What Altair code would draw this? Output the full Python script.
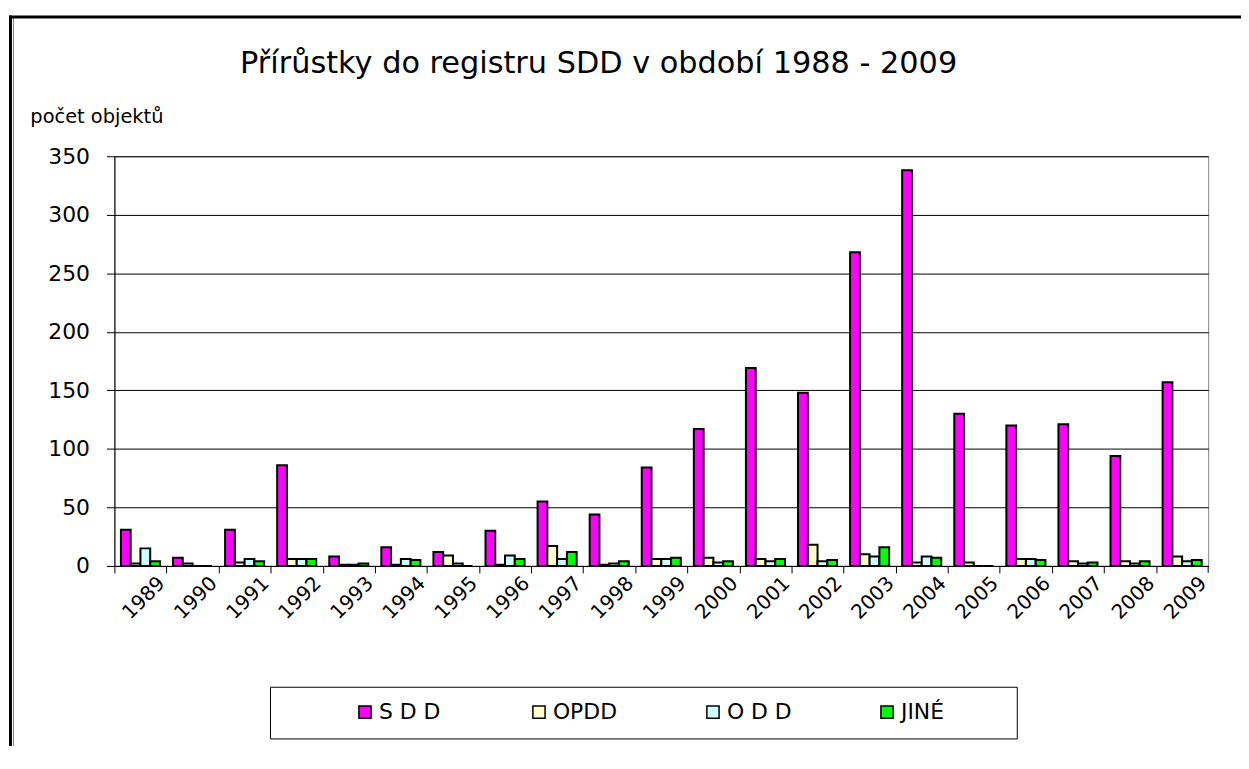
import altair as alt
import pandas as pd

title_text = "Přírůstky do registru SDD v období 1988 - 2009"
y_title = "počet objektů"
years = [str(y) for y in range(1989, 2010)]
series = ["S D D", "OPDD", "O D D", "JINÉ"]
colors = ["#FF00FF", "#FFFFCC", "#CCFFFF", "#00FF00"]

sdd = [31, 7, 31, 86, 8, 16, 12, 30, 55, 44, 84, 117, 169, 148, 268, 338, 130, 120, 121, 94, 157]
opdd = [2, 2, 3, 6, 1, 1, 9, 1, 17, 1, 6, 7, 6, 18, 10, 3, 3, 6, 4, 4, 8]
odd = [15, 0, 6, 6, 1, 6, 2, 9, 6, 2, 6, 3, 4, 4, 8, 8, 0, 6, 2, 2, 4]
jine = [4, 0, 4, 6, 2, 5, 0, 6, 12, 4, 7, 4, 6, 5, 16, 7, 0, 5, 3, 4, 5]
y_ticks = [0, 50, 100, 150, 200, 250, 300, 350]

rows = []
for i, yr in enumerate(years):
    for s, vals in zip(series, [sdd, opdd, odd, jine]):
        rows.append({"rok": yr, "typ": s, "pocet": vals[i]})
df = pd.DataFrame(rows)

W, H = 1100, 412
FONT = "DejaVu Sans"
step = W / len(years)
one = alt.Data(values=[{"a": 1}])

bars = alt.Chart(df).mark_bar(stroke="black", strokeWidth=2).encode(
    x=alt.X("rok:N", sort=years,
            scale=alt.Scale(paddingInner=0.25, paddingOuter=0.125),
            axis=alt.Axis(title=None, labelAngle=-45, labelAlign="right",
                          labelBaseline="middle", labelFont=FONT, labelFontSize=20,
                          labelColor="black", tickOffset=-step / 2, tickSize=7,
                          tickColor="black", domainColor="black", labelPadding=7,
                          labelOffset=step / 2 + 21, labelOverlap=False)),
    xOffset=alt.XOffset("typ:N", sort=series,
                        scale=alt.Scale(paddingInner=0, paddingOuter=0)),
    y=alt.Y("pocet:Q", scale=alt.Scale(domain=[0, 350], nice=False),
            axis=alt.Axis(values=y_ticks, title=y_title, titleAngle=0, titleX=-85,
                          titleY=-40, titleAlign="left", titleBaseline="middle",
                          titleFont=FONT, titleFontSize=19.5, titleFontWeight="normal",
                          titleColor="black", labelFont=FONT, labelFontSize=22,
                          labelColor="black", labelPadding=17, tickSize=8,
                          tickColor="black", domainColor="black", grid=True,
                          gridColor="black", gridWidth=1)),
    color=alt.Color("typ:N", sort=series,
                    scale=alt.Scale(domain=series, range=colors),
                    legend=alt.Legend(orient="none", legendX=241, legendY=548,
                                      direction="horizontal", title=None,
                                      symbolType="square", symbolSize=150,
                                      symbolStrokeColor="black", symbolStrokeWidth=1.5,
                                      labelFont=FONT, labelFontSize=22, labelColor="black",
                                      labelOffset=3, columnPadding=84, gridAlign="all",
                                      padding=0)),
)

legend_box = alt.Chart(one).mark_rect(fill="white", stroke="black", strokeWidth=1).encode(
    x=alt.value(157), x2=alt.value(908), y=alt.value(534), y2=alt.value(586))

last_tick = alt.Chart(one).mark_rule(color="black", strokeWidth=1).encode(
    x=alt.value(W), y=alt.value(H), y2=alt.value(H + 7))

frame_left = alt.Chart(one).mark_rule(color="black", strokeWidth=3).encode(
    x=alt.value(-104.5), y=alt.value(-141.5), y2=alt.value(593))
frame_left2 = alt.Chart(one).mark_rule(color="#808080", strokeWidth=1).encode(
    x=alt.value(-101.5), y=alt.value(-139), y2=alt.value(593))
frame_top = alt.Chart(one).mark_rule(color="black", strokeWidth=3).encode(
    x=alt.value(-106), x2=alt.value(1134), y=alt.value(-140))

title = alt.Chart(one).mark_text(font=FONT, fontSize=30.5, align="center",
                                 baseline="middle", color="black").encode(
    x=alt.value(487), y=alt.value(-93), text=alt.value(title_text))

chart = alt.layer(legend_box, bars, last_tick, frame_left, frame_left2, frame_top, title).properties(
    width=W, height=H,
    padding={"left": 107, "top": 147, "right": 33, "bottom": 181},
    autosize=alt.AutoSizeParams(type="none"),
    background="white",
).configure_view(stroke="#808080", strokeWidth=1)

chart.save("out.html", embed_options={"renderer": "svg", "actions": False})
